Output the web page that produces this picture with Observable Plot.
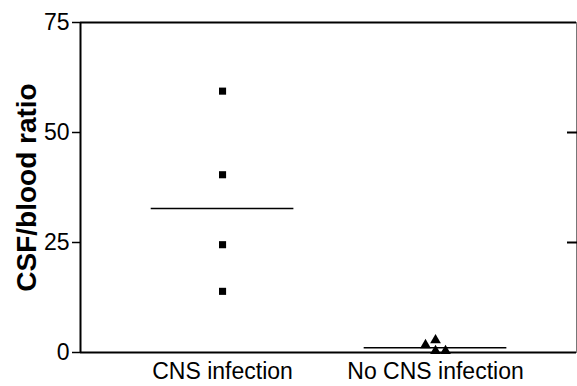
<!DOCTYPE html>
<html>
<head>
<meta charset="utf-8">
<script src="https://cdn.jsdelivr.net/npm/d3@7"></script>
<script src="https://cdn.jsdelivr.net/npm/@observablehq/plot@0.6"></script>
<style>
  html, body { margin: 0; padding: 0; background: #fff; }
  #chart svg { font-family: "Liberation Sans", Arial, sans-serif; display: block; }
  g[aria-label="y-axis label"] text { font-weight: bold; font-size: 28px; }
</style>
</head>
<body>
<div id="chart"></div>
<script>
// Data
const categories = ["CNS infection", "No CNS infection"];
const categoryPos = [1, 2];
const cnsValues = [59.4, 40.4, 24.5, 13.9];
const cnsJitter = [0, 0, 0, 0];
const noCnsValues = [1.7, 2.8, 0.35, 0.35];
const noCnsJitter = [-0.047, 0, 0, 0.047];
const centerValues = [32.7, 1.1];
const centerHalfWidth = 0.335;
const yTicks = [0, 25, 50, 75];
const rightTicks = [25, 50];
const xDomain = [0.333, 2.662];

const cnsData = cnsValues.map((v, i) => ({x: categoryPos[0] + cnsJitter[i], y: v}));
const noCnsData = noCnsValues.map((v, i) => ({x: categoryPos[1] + noCnsJitter[i], y: v}));
const centerData = centerValues.map((v, i) => ({x1: categoryPos[i] - centerHalfWidth, x2: categoryPos[i] + centerHalfWidth, y: v}));

const chart = Plot.plot({
  width: 577,
  height: 386,
  marginLeft: 80,
  marginRight: 1,
  marginTop: 22,
  marginBottom: 34,
  style: {fontFamily: '"Liberation Sans", Arial, sans-serif', color: "#000", background: "#fff"},
  x: {type: "linear", domain: xDomain},
  y: {domain: [0, 75], label: "CSF/blood ratio"},
  marks: [
    Plot.frame({stroke: "#777", strokeWidth: 1}),
    Plot.ruleY([75], {stroke: "#000", strokeWidth: 2}),
    Plot.ruleY([0], {stroke: "#000", strokeWidth: 2}),
    Plot.ruleX([xDomain[0]], {stroke: "#000", strokeWidth: 2}),
    Plot.axisY({
      anchor: "left", ticks: yTicks, tickSize: 8, tickPadding: 3, fontSize: 23,
      strokeWidth: 1.5,
      label: "CSF/blood ratio", labelAnchor: "center", labelArrow: "none", labelOffset: 64
    }),
    Plot.axisY({anchor: "right", ticks: rightTicks, tickSize: -10, strokeWidth: 2, text: null, label: null}),
    Plot.axisX({
      ticks: categoryPos, tickFormat: d => categories[d - 1], tickSize: 0, tickPadding: 10,
      fontSize: 23, label: null
    }),
    Plot.ruleY(centerData, {x1: "x1", x2: "x2", y: "y", stroke: "#000", strokeWidth: 1.5}),
    Plot.dot(cnsData, {x: "x", y: "y", symbol: "square", r: 4, fill: "#000", stroke: null}),
    Plot.dot(noCnsData, {x: "x", y: "y", symbol: "triangle", r: 4, fill: "#000", stroke: null})
  ]
});
document.getElementById("chart").appendChild(chart);
</script>
</body>
</html>
